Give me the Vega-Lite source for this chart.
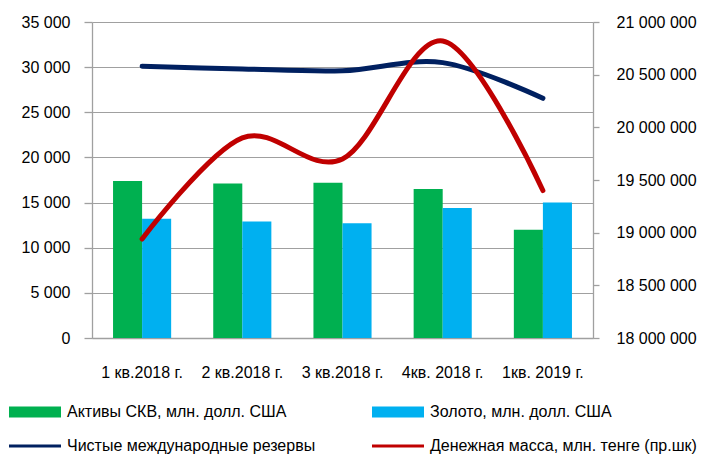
{
  "$schema": "https://vega.github.io/schema/vega-lite/v6.json",
  "width": 501,
  "height": 316,
  "autosize": "none",
  "padding": {"left": 92, "top": 22, "right": 119, "bottom": 117},
  "background": "white",
  "config": {
    "font": "Liberation Sans",
    "view": {"stroke": null},
    "axis": {"labelFont": "Liberation Sans", "labelFontSize": 16, "labelColor": "#000000", "domainColor": "#a0a0a0", "tickColor": "#a0a0a0", "gridColor": "#a0a0a0", "domainWidth": 1.3, "tickWidth": 1.3, "gridWidth": 1.2, "title": null},
    "legend": {"labelFont": "Liberation Sans", "labelFontSize": 16, "labelColor": "#000000"}
  },
  "datasets": {
    "bars": [
      {"q": "1 кв.2018 г.", "series": "Активы СКВ, млн. долл. США", "value": 17400},
      {"q": "1 кв.2018 г.", "series": "Золото, млн. долл. США", "value": 13200},
      {"q": "2 кв.2018 г.", "series": "Активы СКВ, млн. долл. США", "value": 17100},
      {"q": "2 кв.2018 г.", "series": "Золото, млн. долл. США", "value": 12900},
      {"q": "3 кв.2018 г.", "series": "Активы СКВ, млн. долл. США", "value": 17200},
      {"q": "3 кв.2018 г.", "series": "Золото, млн. долл. США", "value": 12700},
      {"q": "4кв. 2018 г.", "series": "Активы СКВ, млн. долл. США", "value": 16500},
      {"q": "4кв. 2018 г.", "series": "Золото, млн. долл. США", "value": 14400},
      {"q": "1кв. 2019 г.", "series": "Активы СКВ, млн. долл. США", "value": 12000},
      {"q": "1кв. 2019 г.", "series": "Золото, млн. долл. США", "value": 15000}
    ],
    "reserves": [
      {"q": "1 кв.2018 г.", "series": "Чистые международные резервы", "value": 30100},
      {"q": "2 кв.2018 г.", "series": "Чистые международные резервы", "value": 29800},
      {"q": "3 кв.2018 г.", "series": "Чистые международные резервы", "value": 29600},
      {"q": "4кв. 2018 г.", "series": "Чистые международные резервы", "value": 30500},
      {"q": "1кв. 2019 г.", "series": "Чистые международные резервы", "value": 26550}
    ],
    "money": [
      {"q": "1 кв.2018 г.", "series": "Денежная масса, млн. тенге (пр.шк)", "value": 18940000},
      {"q": "2 кв.2018 г.", "series": "Денежная масса, млн. тенге (пр.шк)", "value": 19900000},
      {"q": "3 кв.2018 г.", "series": "Денежная масса, млн. тенге (пр.шк)", "value": 19700000},
      {"q": "4кв. 2018 г.", "series": "Денежная масса, млн. тенге (пр.шк)", "value": 20820000},
      {"q": "1кв. 2019 г.", "series": "Денежная масса, млн. тенге (пр.шк)", "value": 19400000}
    ]
  },
  "encoding": {
    "x": {
      "field": "q", "type": "nominal", "sort": null,
      "scale": {"domain": ["1 кв.2018 г.", "2 кв.2018 г.", "3 кв.2018 г.", "4кв. 2018 г.", "1кв. 2019 г."], "paddingInner": 0.42, "paddingOuter": 0.21},
      "axis": {"labelAngle": 0, "ticks": false, "labelPadding": 26, "domain": true, "grid": false}
    },
    "color": {
      "field": "series", "type": "nominal",
      "scale": {
        "domain": ["Активы СКВ, млн. долл. США", "Золото, млн. долл. США", "Чистые международные резервы", "Денежная масса, млн. тенге (пр.шк)"],
        "range": ["#00b050", "#00b0f0", "#002060", "#c00000"]
      },
      "legend": {
        "title": null, "orient": "none", "legendX": -83, "legendY": 364,
        "direction": "horizontal",
        "columns": 2, "columnPadding": 56, "rowPadding": -17,
        "symbolSize": 2704, "labelOffset": 6, "labelLimit": 500,
        "encode": {
          "symbols": {
            "update": {
              "shape": {"signal": "(datum.value === 'Активы СКВ, млн. долл. США' || datum.value === 'Золото, млн. долл. США') ? 'M-1,-0.21H1V0.21H-1Z' : 'M-1,-0.06H1V0.06H-1Z'"},
              "fill": {"scale": "color", "field": "value"},
              "strokeWidth": {"value": 0},
              "opacity": {"value": 1}
            }
          }
        }
      }
    }
  },
  "layer": [
    {
      "layer": [
        {
          "data": {"name": "bars"},
          "mark": {"type": "bar"},
          "encoding": {
            "xOffset": {"field": "series", "type": "nominal", "scale": {"paddingInner": 0, "paddingOuter": 0}},
            "y": {
              "field": "value", "type": "quantitative",
              "scale": {"domain": [0, 35000], "nice": false},
              "axis": {"values": [0, 5000, 10000, 15000, 20000, 25000, 30000, 35000], "grid": true, "tickSize": 8, "labelPadding": 14, "labelExpr": "replace(format(datum.value, ','), /,/g, ' ')"}
            }
          }
        },
        {
          "data": {"name": "reserves"},
          "mark": {"type": "line", "strokeWidth": 5, "interpolate": "cardinal", "tension": 0, "strokeCap": "round"},
          "encoding": {
            "y": {"field": "value", "type": "quantitative"}
          }
        }
      ]
    },
    {
      "data": {"name": "money"},
      "mark": {"type": "line", "strokeWidth": 5, "interpolate": "cardinal", "tension": 0, "strokeCap": "round"},
      "encoding": {
        "y": {
          "field": "value", "type": "quantitative",
          "scale": {"domain": [18000000, 21000000], "nice": false, "zero": false},
          "axis": {"orient": "right", "values": [18000000, 18500000, 19000000, 19500000, 20000000, 20500000, 21000000], "grid": false, "tickSize": 6, "labelPadding": 17, "labelExpr": "replace(format(datum.value, ','), /,/g, ' ')"}
        }
      }
    }
  ],
  "resolve": {"scale": {"y": "independent"}}
}
